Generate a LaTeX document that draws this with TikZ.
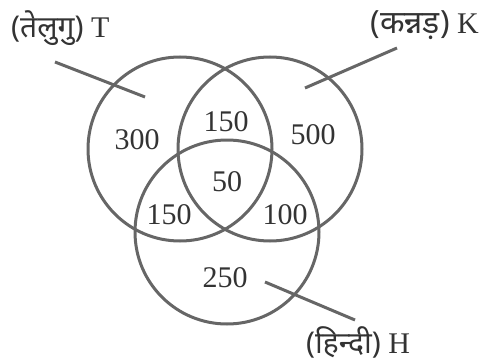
\documentclass[tikz,border=0pt]{standalone}
\usepackage{fontspec}
\setmainfont{Liberation Serif}
\newfontfamily\devfont[Script=Devanagari]{Noto Sans}
\begin{document}
\begin{tikzpicture}[x=1pt,y=-1pt,
  setcircle/.style={circle,draw=black!60,line width=3pt,minimum size=184pt,inner sep=0pt},
  num/.style={font=\fontsize{30}{32}\selectfont,text=black!80,inner sep=0pt},
  lab/.style={font=\fontsize{30}{32}\selectfont,text=black!80,inner sep=0pt},
  leader/.style={draw=black!60,line width=3pt}]
\useasboundingbox (0,0) rectangle (479,361);
\node[setcircle] (T) at (180,149) {};
\node[setcircle] (K) at (270,149) {};
\node[setcircle] (H) at (227,232) {};
\node[num] (n300) at (137,140) {300};
\node[num] (n150a) at (226,122) {150};
\node[num] (n500) at (313,135) {500};
\node[num] (n50) at (227,182) {50};
\node[num] (n150b) at (169,215) {150};
\node[num] (n100) at (285,215) {100};
\node[num] (n250) at (225,278) {250};
\node[lab,anchor=west] (lT) at (11,28) {{\devfont\bfseries\fontsize{30}{32}\selectfont(तेलुगु)} T};
\node[lab,anchor=east] (lK) at (479,25) {{\devfont\bfseries\fontsize{32}{34}\selectfont(कन्नड़)} K};
\node[lab,anchor=west] (lH) at (306,342) {{\devfont\bfseries\fontsize{30}{32}\selectfont(हिन्दी)} H};
\coordinate (tA) at (55,62);
\coordinate (tB) at (145,97);
\coordinate (kA) at (397,48);
\coordinate (kB) at (305,88);
\coordinate (hA) at (265,282);
\coordinate (hB) at (355,320);
\draw[leader] (tA) -- (tB);
\draw[leader] (kA) -- (kB);
\draw[leader] (hA) -- (hB);
\end{tikzpicture}
\end{document}
